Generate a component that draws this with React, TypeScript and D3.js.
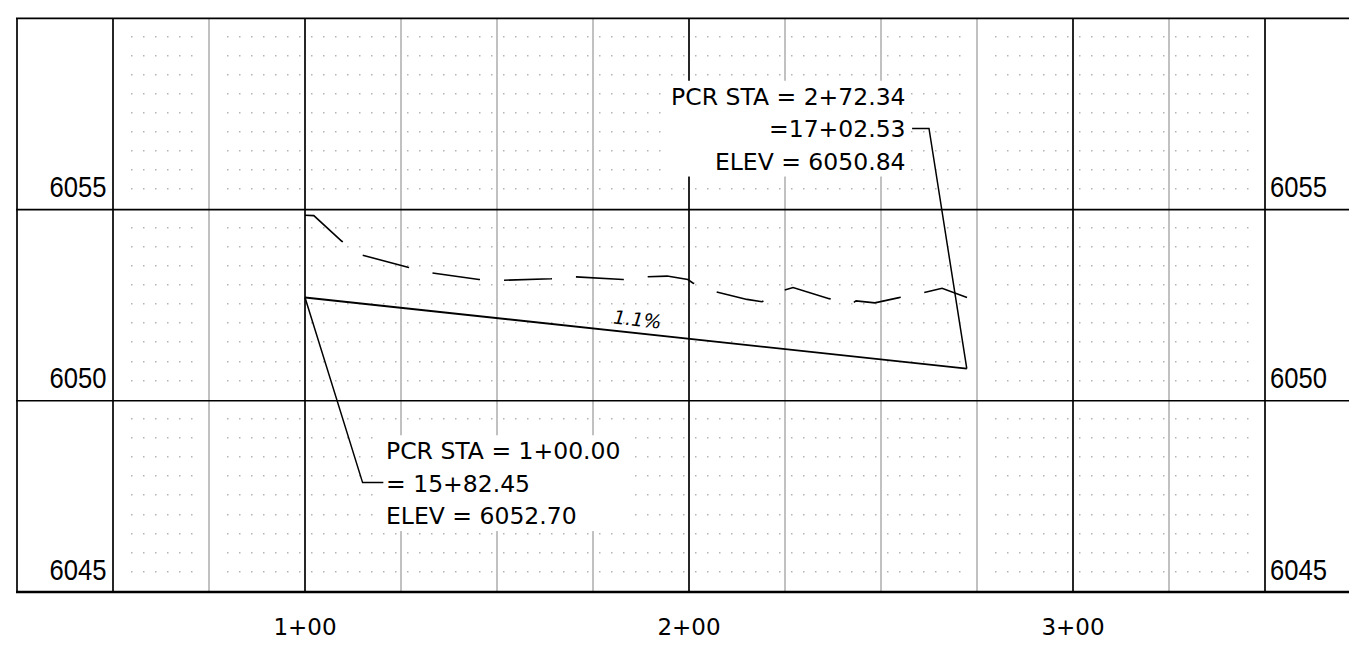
import React, { useRef, useEffect } from 'react';
import * as d3 from 'd3';

// ---- data ----
const stationDomain = [50, 350];
const elevDomain = [6045, 6060];
const majorStations = [50, 100, 200, 300, 350];
const minorStations = [75, 125, 150, 175, 225, 250, 275, 325];
const elevLines = [6045, 6050, 6055, 6060];
const elevLabels = [6045, 6050, 6055];
const stationTicks = [100, 200, 300];
const stationTickLabels = ['1+00', '2+00', '3+00'];

// existing ground (station, elevation)
const groundSta = [100.0, 102.3, 109.6, 114.8, 126.8, 133.1, 145.3, 151.6, 164.1, 170.3, 182.8, 189.1, 194.3, 199.7, 201.0, 207.0, 215.1, 219.0, 224.7, 227.1, 236.5, 242.4, 243.5, 248.4, 254.4, 260.9, 265.9, 272.4];
const groundElev = [6054.85, 6054.84, 6054.17, 6053.81, 6053.49, 6053.34, 6053.17, 6053.15, 6053.19, 6053.24, 6053.17, 6053.24, 6053.26, 6053.17, 6053.08, 6052.85, 6052.65, 6052.59, 6052.89, 6052.96, 6052.67, 6052.54, 6052.61, 6052.56, 6052.69, 6052.82, 6052.94, 6052.70];

// proposed grade
const gradeSta = [100.0, 272.34];
const gradeElev = [6052.70, 6050.84];
const gradeLabel = '1.1%';

// annotations
const annoLines1 = ['PCR STA = 1+00.00', '= 15+82.45', 'ELEV = 6052.70'];
const annoLines2 = ['PCR STA = 2+72.34', '=17+02.53', 'ELEV = 6050.84'];
const annoPoint1 = [100.0, 6052.70];
const annoElbow1 = [115.0, 6047.86];
const annoTail1 = [120.4, 6047.86];
const annoText1 = [121.1, 6048.47];
const annoPoint2 = [272.34, 6050.84];
const annoElbow2 = [262.5, 6057.12];
const annoTail2 = [258.1, 6057.12];
const annoText2 = [256.4, 6057.74];

export default function App() {
  const ref = useRef<SVGSVGElement>(null);
  useEffect(() => {
    const svg = d3.select(ref.current);
    svg.selectAll('*').remove();
    const x = d3.scaleLinear().domain(stationDomain).range([113, 1265]);
    const y = d3.scaleLinear().domain(elevDomain).range([592, 18.3]);

    svg.append('rect').attr('width', 1349).attr('height', 646).attr('fill', '#fff');

    // dots
    const dotStep = 3.125;
    const dots = svg.append('g').attr('fill', '#b4b4b4');
    const dotX: number[] = [];
    for (let s = stationDomain[0] + dotStep * 1.5; s <= stationDomain[1] - dotStep * 0.9; s += dotStep) {
      const px = x(s);
      if (Math.abs(px - x(75)) < 8 || Math.abs(px - x(275)) < 8) continue;
      dotX.push(px);
    }
    const dotY: number[] = [];
    [6045, 6050, 6055].forEach(b => {
      for (let j = 0; j < 9; j++) dotY.push(y(b + 0.55 + 0.5 * j));
    });
    dotY.forEach(py => dotX.forEach(px => {
      dots.append('rect').attr('x', Math.round(px)).attr('y', Math.round(py)).attr('width', 1.5).attr('height', 1.5);
    }));

    // grid lines
    const g = svg.append('g');
    minorStations.forEach(s => g.append('line').attr('x1', x(s)).attr('x2', x(s)).attr('y1', y(6060)).attr('y2', y(6045)).attr('stroke', '#a0a0a0').attr('stroke-width', 1.3));
    majorStations.forEach(s => g.append('line').attr('x1', x(s)).attr('x2', x(s)).attr('y1', y(6060)).attr('y2', y(6045)).attr('stroke', '#000').attr('stroke-width', 1.7));
    g.append('line').attr('x1', 17).attr('x2', 17).attr('y1', y(6060)).attr('y2', y(6045)).attr('stroke', '#000').attr('stroke-width', 1.7);
    elevLines.forEach(e => g.append('line').attr('x1', 16).attr('x2', 1349).attr('y1', y(e)).attr('y2', y(e)).attr('stroke', '#000').attr('stroke-width', e === 6045 ? 2.4 : 1.7));

    // annotation text groups (measure for white boxes)
    const fontFam = "'DejaVu Sans', Verdana, sans-serif";
    const lh = 32.4;
    const boxLayer = svg.append('g');
    const drawLayer = svg.append('g');
    const textLayer = svg.append('g');
    const makeText = (lines: string[], pos: number[], anchor: string) => {
      const t = textLayer.append('g');
      lines.forEach((l, i) => {
        t.append('text').attr('x', x(pos[0])).attr('y', y(pos[1]) + i * lh)
          .attr('text-anchor', anchor).attr('font-family', fontFam).attr('font-size', 23.5).attr('fill', '#000').text(l);
      });
      const bb = (t.node() as SVGGElement).getBBox();
      const top = y(pos[1]) - 24;
      const bottom = y(pos[1]) + (lines.length - 1) * lh + 7;
      boxLayer.append('rect').attr('x', bb.x - 5).attr('y', top).attr('width', bb.width + 10).attr('height', bottom - top).attr('fill', '#fff');
    };
    makeText(annoLines1, annoText1, 'start');
    makeText(annoLines2, annoText2, 'end');

    // ground line
    const line = d3.line<number>().x(i => x(groundSta[i])).y(i => y(groundElev[i]));
    drawLayer.append('path').attr('d', line(d3.range(groundSta.length)))
      .attr('fill', 'none').attr('stroke', '#000').attr('stroke-width', 1.6).attr('stroke-dasharray', '48 24');

    // grade line
    const gl = d3.line<number>().x(i => x(gradeSta[i])).y(i => y(gradeElev[i]));
    drawLayer.append('path').attr('d', gl(d3.range(gradeSta.length)))
      .attr('fill', 'none').attr('stroke', '#000').attr('stroke-width', 1.9);
    const x0 = x(gradeSta[0]), y0 = y(gradeElev[0]), x1 = x(gradeSta[1]), y1 = y(gradeElev[1]);
    const ang = Math.atan2(y1 - y0, x1 - x0) * 180 / Math.PI;
    const mx = (x0 + x1) / 2, my = (y0 + y1) / 2;
    drawLayer.append('text').attr('transform', `translate(${mx},${my}) rotate(${ang}) translate(0,-7)`)
      .attr('text-anchor', 'middle').attr('font-family', fontFam).attr('font-style', 'italic')
      .attr('font-size', 19).attr('fill', '#000').text(gradeLabel);

    // leaders
    const lead = (pts: number[][]) => drawLayer.append('path')
      .attr('d', d3.line<number[]>().x(p => x(p[0])).y(p => y(p[1]))(pts))
      .attr('fill', 'none').attr('stroke', '#000').attr('stroke-width', 1.5);
    lead([annoPoint1, annoElbow1, annoTail1]);
    lead([annoPoint2, annoElbow2, annoTail2]);

    // elevation labels
    const yFont = "'Liberation Sans Narrow', 'Liberation Sans', Arial, sans-serif";
    elevLabels.forEach(e => {
      svg.append('text').attr('x', 106.5).attr('y', y(e) - 12.5).attr('text-anchor', 'end')
        .attr('font-family', yFont).attr('font-size', 30).attr('textLength', 57).attr('lengthAdjust', 'spacingAndGlyphs')
        .attr('fill', '#000').text(String(e));
      svg.append('text').attr('x', 1270).attr('y', y(e) - 12.5).attr('text-anchor', 'start')
        .attr('font-family', yFont).attr('font-size', 30).attr('textLength', 57).attr('lengthAdjust', 'spacingAndGlyphs')
        .attr('fill', '#000').text(String(e));
    });

    // station labels
    stationTicks.forEach((s, i) => {
      svg.append('text').attr('x', x(s)).attr('y', 635).attr('text-anchor', 'middle')
        .attr('font-family', fontFam).attr('font-size', 23).attr('fill', '#000').text(stationTickLabels[i]);
    });
  }, []);
  return (
    <svg ref={ref} width={1349} height={646} style={{ position: 'absolute', left: 0, top: 0, display: 'block' }} />
  );
}
